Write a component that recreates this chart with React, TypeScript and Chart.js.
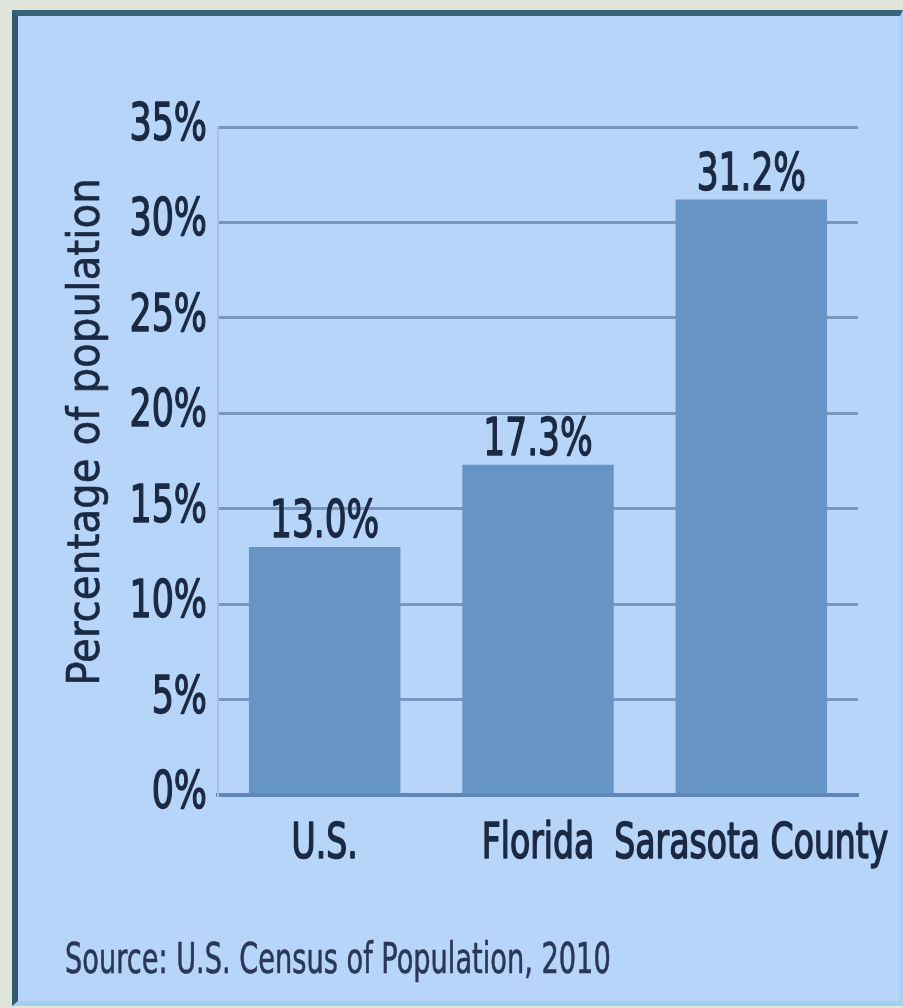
import React, { useEffect, useRef } from "react";
import { Chart, registerables } from "chart.js";

Chart.register(...registerables);

// Share of population aged 65 and over, 2010
const categories = ["U.S.", "Florida", "Sarasota County"];
const shareValues = [13.0, 17.3, 31.2];
const valueLabels = ["13.0%", "17.3%", "31.2%"];
const yTickStep = 5;
const yMax = 35;
const yTitle = "Percentage of population";
const sourceNote = "Source: U.S. Census of Population, 2010";

const FONT = "'DejaVu Sans Condensed', 'DejaVu Sans', sans-serif";
const TEXT = "#1b2943";

// Draws text squeezed horizontally to mimic a condensed face, with an
// optional outline to give it a medium weight
function squeezed(
  ctx: CanvasRenderingContext2D,
  text: string,
  x: number,
  y: number,
  align: CanvasTextAlign,
  sx: number,
  weight = 0
) {
  ctx.save();
  ctx.translate(x, y);
  ctx.scale(sx, 1);
  ctx.textAlign = align;
  ctx.fillText(text, 0, 0);
  if (weight > 0) {
    ctx.lineWidth = weight;
    ctx.strokeStyle = ctx.fillStyle as string;
    ctx.strokeText(text, 0, 0);
  }
  ctx.restore();
}

const annotate = {
  id: "annotate",
  afterDatasetsDraw(chart: any) {
    const { ctx } = chart;
    const xs = chart.scales.x;
    const ys = chart.scales.y;
    ctx.save();
    ctx.fillStyle = TEXT;
    ctx.textBaseline = "alphabetic";
    ctx.lineJoin = "round";

    // y tick labels
    ctx.font = `51px ${FONT}`;
    ys.ticks.forEach((t: any) => {
      const y = ys.getPixelForValue(t.value);
      squeezed(ctx, `${t.value}%`, ys.right - 11, y + 13, "right", 0.76, 1.4);
    });

    // category labels
    ctx.font = `49px ${FONT}`;
    xs.ticks.forEach((_t: any, i: number) => {
      const x = xs.getPixelForTick(i);
      squeezed(ctx, xs.getLabelForValue(i), x, xs.top + 63, "center", 0.75, 1.6);
    });

    // value labels above bars
    ctx.font = `51px ${FONT}`;
    chart.getDatasetMeta(0).data.forEach((bar: any, i: number) => {
      squeezed(ctx, valueLabels[i], bar.x, bar.y - 10, "center", 0.75, 1.4);
    });

    // vertical axis title
    ctx.save();
    ctx.translate(87, 432);
    ctx.rotate(-Math.PI / 2);
    ctx.font = `45px ${FONT}`;
    ctx.textBaseline = "middle";
    ctx.textAlign = "center";
    ctx.fillText(yTitle, 0, 0);
    ctx.lineWidth = 0.6;
    ctx.strokeStyle = TEXT;
    ctx.strokeText(yTitle, 0, 0);
    ctx.restore();

    // source line
    ctx.font = `42px ${FONT}`;
    ctx.fillStyle = "#2a3756";
    squeezed(ctx, sourceNote, 65, 973, "left", 0.72, 0.6);
    ctx.restore();
  },
};

export default function App() {
  const ref = useRef<HTMLCanvasElement | null>(null);

  useEffect(() => {
    if (!ref.current) return;
    const chart = new Chart(ref.current, {
      type: "bar",
      data: {
        labels: categories,
        datasets: [
          {
            data: shareValues,
            backgroundColor: "#6594c5",
            barPercentage: 0.71,
            categoryPercentage: 1.0,
          },
        ],
      },
      options: {
        animation: false,
        responsive: false,
        layout: { padding: { left: 0, top: 127, right: 45, bottom: 113 } },
        plugins: { legend: { display: false }, tooltip: { enabled: false } },
        scales: {
          x: {
            afterFit: (s: any) => {
              s.height = 100;
            },
            grid: { display: false, drawTicks: false },
            border: { display: true, color: "#5e86b6", width: 4 },
            ticks: { display: false, autoSkip: false },
          },
          y: {
            min: 0,
            max: yMax,
            afterFit: (s: any) => {
              s.width = 218;
            },
            grid: { color: "#7896c0", lineWidth: 3, drawTicks: false },
            border: { display: true, color: "#a3bee2", width: 2 },
            ticks: { display: false, stepSize: yTickStep },
          },
        },
      },
      plugins: [annotate],
    });
    return () => chart.destroy();
  }, []);

  return (
    <div
      style={{
        position: "fixed",
        left: 0,
        top: 0,
        width: 903,
        height: 1008,
        background: "#dfe5da",
        overflow: "hidden",
      }}
    >
      <div
        style={{
          position: "absolute",
          left: 12,
          top: 10,
          width: 882,
          height: 985,
          background: "#b6d5f9",
          borderLeft: "6px solid #2f5a70",
          borderTop: "6px solid #3a6378",
          borderRight: "3px solid #a4cff0",
          borderBottom: "5px solid #a4cff0",
        }}
      />
      <canvas
        ref={ref}
        width={903}
        height={1008}
        style={{ position: "absolute", left: 0, top: 0, width: 903, height: 1008 }}
      />
    </div>
  );
}
